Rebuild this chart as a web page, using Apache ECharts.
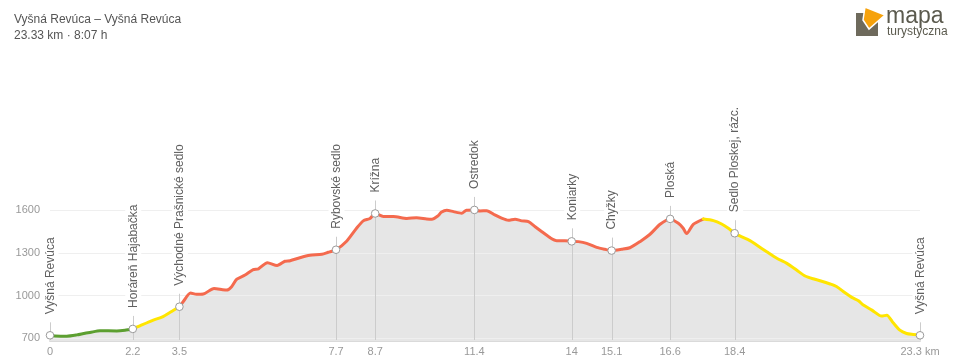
<!DOCTYPE html>
<html><head><meta charset="utf-8">
<script src="https://cdn.jsdelivr.net/npm/echarts@6/dist/echarts.min.js"></script>
<style>html,body{margin:0;padding:0;background:#fff}#c{width:960px;height:362px}</style>
</head><body><div id="c"></div>
<script>
const titleText = 'Vyšná Revúca – Vyšná Revúca';
const subtitleText = '23.33 km · 8:07 h';

const distKm = [0, 0.13, 0.45, 0.72, 0.94, 1.07, 1.34, 1.79, 2.01, 2.22, 2.41, 2.77, 3.00, 3.26, 3.47, 3.57, 3.77, 3.93, 4.11, 4.40, 4.63, 4.74, 4.87, 5.01, 5.23, 5.45, 5.59, 5.83, 6.09, 6.30, 6.44, 6.70, 6.97, 7.29, 7.46, 7.67, 7.96, 8.22, 8.40, 8.58, 8.72, 8.94, 9.21, 9.57, 9.83, 10.10, 10.24, 10.41, 10.49, 10.64, 10.82, 11.04, 11.17, 11.38, 11.53, 11.71, 11.93, 12.11, 12.29, 12.47, 12.65, 12.83, 13.01, 13.19, 13.41, 13.59, 13.81, 13.99, 14.17, 14.39, 14.66, 14.88, 15.06, 15.33, 15.55, 15.82, 16.09, 16.36, 16.63, 16.85, 16.98, 17.07, 17.25, 17.52, 17.79, 18.01, 18.19, 18.36, 18.50, 18.77, 18.95, 19.22, 19.49, 19.76, 20.02, 20.25, 20.51, 20.65, 20.92, 21.10, 21.32, 21.50, 21.68, 21.81, 22.04, 22.30, 22.44, 22.61, 22.79, 22.97, 23.15, 23.33];
const elevM = [720, 716, 714, 723, 735, 740, 752, 751, 756, 765, 787, 827, 848, 888, 921, 956, 1017, 1008, 1010, 1050, 1041, 1038, 1062, 1115, 1144, 1182, 1188, 1231, 1211, 1241, 1245, 1266, 1283, 1290, 1304, 1322, 1384, 1473, 1525, 1542, 1577, 1555, 1555, 1542, 1547, 1539, 1537, 1562, 1585, 1600, 1590, 1579, 1600, 1602, 1595, 1597, 1567, 1544, 1529, 1537, 1525, 1520, 1484, 1449, 1407, 1386, 1386, 1381, 1379, 1367, 1339, 1325, 1316, 1325, 1336, 1379, 1431, 1501, 1539, 1508, 1473, 1436, 1501, 1538, 1527, 1503, 1473, 1438, 1419, 1386, 1355, 1308, 1262, 1226, 1179, 1137, 1114, 1104, 1081, 1062, 1019, 987, 963, 933, 897, 855, 862, 808, 756, 733, 726, 720];

const segmentBreaksKm = [0, 2.22, 3.47, 17.52, 23.33];
const segmentColors = ['#5c9f30', '#ffe500', '#f46a4e', '#ffe500'];

const waypointNames = ['Vyšná Revúca', 'Horáreň Hajabačka', 'Východné Prašnické sedlo', 'Rybovské sedlo', 'Krížna', 'Ostredok', 'Koniarky', 'Chyžky', 'Ploská', 'Sedlo Ploskej, rázc.', 'Vyšná Revúca'];
const waypointKm = [0, 2.22, 3.47, 7.67, 8.72, 11.38, 13.99, 15.06, 16.63, 18.36, 23.33];
const waypointElev = [720, 765, 921, 1322, 1577, 1602, 1381, 1316, 1539, 1438, 720];

const yTicks = [700, 1000, 1300, 1600];
const Y_MIN = 680, Y_MAX = 1700;
const FONT = '"Liberation Sans", Arial, Helvetica, sans-serif';

const profile = distKm.map((d, i) => [d, elevM[i]]);
const areaData = [[-0.16, elevM[0]]].concat(profile, [[distKm[distKm.length - 1] + 0.16, elevM[elevM.length - 1]]]);

const lineSeries = segmentColors.map((c, s) => ({
  type: 'line', z: 3, clip: false, symbol: 'none', smooth: 0.25,
  lineStyle: { color: c, width: 3, cap: 'round', join: 'round' },
  data: profile.filter(p => p[0] >= segmentBreaksKm[s] - 1e-9 && p[0] <= segmentBreaksKm[s + 1] + 1e-9),
  silent: true, animation: false
}));

const chart = echarts.init(document.getElementById('c'), null, { renderer: 'canvas' });
chart.setOption({
  animation: false,
  textStyle: { fontFamily: FONT },
  grid: { left: 50, right: 40, top: 196, bottom: 21, containLabel: false },
  xAxis: {
    type: 'value', min: 0, max: 23.33,
    axisLine: { show: true, lineStyle: { color: '#dadada', width: 2 } },
    axisTick: { show: false, customValues: waypointKm },
    splitLine: { show: false },
    axisLabel: {
      customValues: waypointKm, color: '#999', fontSize: 11, fontFamily: FONT, margin: 5,
      formatter: v => { const s = String(parseFloat(v.toFixed(1))); return Math.abs(v - 23.33) < 0.01 ? s + ' km' : s; }
    }
  },
  yAxis: {
    type: 'value', min: Y_MIN, max: Y_MAX, z: 2,
    axisLine: { show: false },
    axisTick: { show: false, customValues: yTicks },
    axisLabel: { customValues: yTicks, color: '#999', fontSize: 11, fontFamily: FONT, margin: 10, formatter: v => String(v) },
    splitLine: { show: true, lineStyle: { color: '#efefef', width: 1 } }
  },
  series: [
    {
      type: 'line', z: 1, clip: false, symbol: 'none', smooth: 0.25, silent: true,
      lineStyle: { width: 0, opacity: 0 },
      areaStyle: { color: '#e6e6e6', opacity: 1 },
      data: areaData
    }
  ].concat(lineSeries, [{
    type: 'custom', z: 4, clip: false, silent: true,
    data: waypointKm.map((k, i) => [k, waypointElev[i]]),
    renderItem: (params, api) => {
      const p = api.coord([api.value(0), api.value(1)]);
      const base = api.coord([api.value(0), Y_MIN]);
      const x = Math.round(p[0]) + 0.5;
      return {
        type: 'group', children: [
          { type: 'line', shape: { x1: x, y1: p[1] - 13, x2: x, y2: base[1] - 1 }, style: { stroke: '#cccccc', lineWidth: 1 } },
          { type: 'text', x: p[0] + 0.5, y: p[1] - 19, rotation: Math.PI / 2,
            style: { text: waypointNames[params.dataIndex], fill: '#606060', font: '12px ' + FONT, align: 'left', verticalAlign: 'middle', backgroundColor: '#ffffff', padding: [2, 2] } },
          { type: 'circle', shape: { cx: p[0], cy: p[1], r: 3.8 }, style: { fill: '#ffffff', stroke: '#9a9a9a', lineWidth: 1 } }
        ]
      };
    }
  }]),
  graphic: [
    { type: 'text', left: 14, top: 14, style: { text: titleText, fill: '#555', font: '12px ' + FONT } },
    { type: 'text', left: 14, top: 30, style: { text: subtitleText, fill: '#555', font: '12px ' + FONT } },
    { type: 'polygon', shape: { points: [[856, 13], [878, 13], [878, 36], [856, 36]] }, style: { fill: '#6e6a5c' } },
    { type: 'polygon', shape: { points: [[865, 7], [885, 15], [869, 29], [863, 20]] }, style: { fill: '#f6a20c', stroke: '#ffffff', lineWidth: 1.5 } },
    { type: 'text', x: 886, y: 5, style: { text: 'mapa', fill: '#5b5a4e', font: '23px ' + FONT, verticalAlign: 'top' } },
    { type: 'text', x: 887, y: 26, style: { text: 'turystyczna', fill: '#5b5a4e', font: '12px ' + FONT, verticalAlign: 'top' } }
  ]
});
</script></body></html>
